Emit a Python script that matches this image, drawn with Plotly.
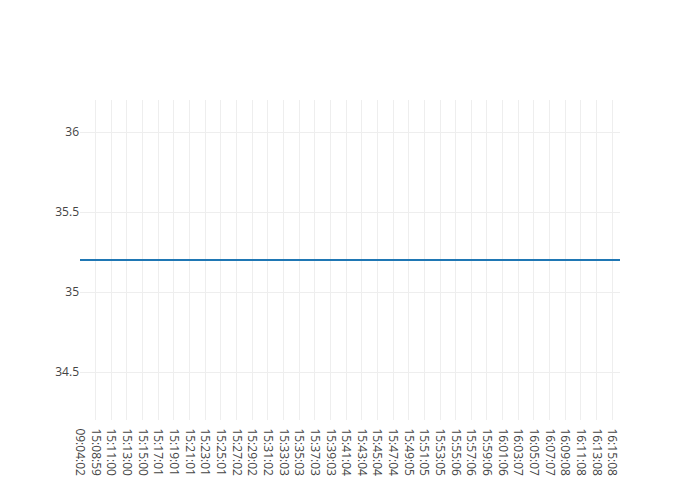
import plotly.graph_objects as go

# sample times (category axis)
times = [
    "09:04:02", "15:07:59", "15:08:59", "15:09:59", "15:11:00", "15:12:00",
    "15:13:00", "15:14:00", "15:15:00", "15:16:00", "15:17:01", "15:18:01",
    "15:19:01", "15:20:01", "15:21:01", "15:22:01", "15:23:01", "15:24:01",
    "15:25:01", "15:26:02", "15:27:02", "15:28:02", "15:29:02", "15:30:02",
    "15:31:02", "15:32:03", "15:33:03", "15:34:03", "15:35:03", "15:36:03",
    "15:37:03", "15:38:03", "15:39:03", "15:40:04", "15:41:04", "15:42:04",
    "15:43:04", "15:44:04", "15:45:04", "15:46:04", "15:47:04", "15:48:05",
    "15:49:05", "15:50:05", "15:51:05", "15:52:05", "15:53:05", "15:54:06",
    "15:55:06", "15:56:06", "15:57:06", "15:58:06", "15:59:06", "16:00:06",
    "16:01:06", "16:02:07", "16:03:07", "16:04:07", "16:05:07", "16:06:07",
    "16:07:07", "16:08:08", "16:09:08", "16:10:08", "16:11:08", "16:12:08",
    "16:13:08", "16:14:08", "16:15:08", "16:16:09",
]

# temperature readings
temps = [
    35.2, 35.2, 35.2, 35.2, 35.2, 35.2, 35.2, 35.2, 35.2, 35.2,
    35.2, 35.2, 35.2, 35.2, 35.2, 35.2, 35.2, 35.2, 35.2, 35.2,
    35.2, 35.2, 35.2, 35.2, 35.2, 35.2, 35.2, 35.2, 35.2, 35.2,
    35.2, 35.2, 35.2, 35.2, 35.2, 35.2, 35.2, 35.2, 35.2, 35.2,
    35.2, 35.2, 35.2, 35.2, 35.2, 35.2, 35.2, 35.2, 35.2, 35.2,
    35.2, 35.2, 35.2, 35.2, 35.2, 35.2, 35.2, 35.2, 35.2, 35.2,
    35.2, 35.2, 35.2, 35.2, 35.2, 35.2, 35.2, 35.2, 35.2, 35.2,
]

fig = go.Figure(
    go.Scatter(
        x=times,
        y=temps,
        mode="lines",
        line={"color": "#1f77b4", "width": 2},
    )
)

fig.update_layout(
    template="none",
    width=700,
    height=500,
    margin=dict(l=80, r=80, t=100, b=80),
    paper_bgcolor="white",
    plot_bgcolor="white",
    font={"family": "Open Sans, verdana, arial, sans-serif", "size": 12, "color": "#444"},
    showlegend=False,
    xaxis={
        "type": "category",
        "tickmode": "linear",
        "tick0": 0,
        "dtick": 2,
        "tickangle": 90,
        "showgrid": True,
        "gridcolor": "#eee",
        "gridwidth": 1,
        "zeroline": False,
        "showline": False,
        # invisible ticks just to push the labels down a little
        "ticks": "outside",
        "ticklen": 5,
        "tickcolor": "rgba(0,0,0,0)",
    },
    yaxis={
        "range": [34.2, 36.2],
        "dtick": 0.5,
        "showgrid": True,
        "gridcolor": "#eee",
        "gridwidth": 1,
        "zeroline": False,
        "showline": False,
        "ticks": "",
    },
)

# page has no body margin so the figure sits at the top-left corner
fig.write_html(
    "out.html",
    config={"displayModeBar": False},
    post_script="document.body.style.margin = '0';",
)
